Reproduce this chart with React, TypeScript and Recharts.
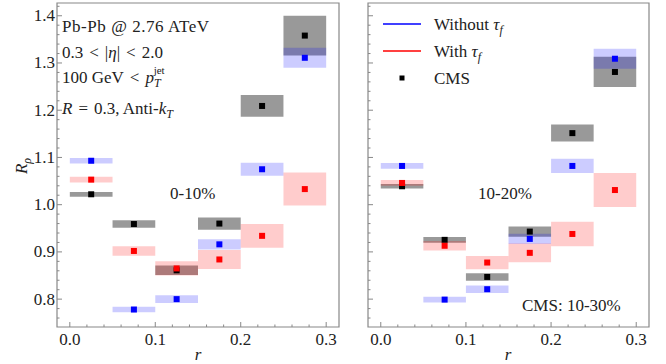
import React from 'react';
import { ScatterChart, Scatter, XAxis, YAxis, ReferenceArea } from 'recharts';

// bin centres in r, each bin is 0.05 wide
const rCenters = [0.025, 0.075, 0.125, 0.175, 0.225, 0.275];
const binHalf = 0.025;

// 0-10%
const noTauCentral = [1.093, 0.778, 0.8, 0.916, 1.075, 1.311];
const noTauCentralErr = [0.006, 0.006, 0.008, 0.011, 0.014, 0.021];
const withTauCentral = [1.053, 0.902, 0.865, 0.884, 0.934, 1.033];
const withTauCentralErr = [0.006, 0.01, 0.015, 0.02, 0.025, 0.035];
const cmsCentral = [1.022, 0.959, 0.861, 0.96, 1.209, 1.358];
const cmsCentralErr = [0.005, 0.008, 0.01, 0.013, 0.023, 0.042];

// 10-20% (CMS 10-30%)
const noTauMid = [1.082, 0.799, 0.821, 0.9275, 1.082, 1.309];
const noTauMidErr = [0.006, 0.006, 0.008, 0.011, 0.015, 0.021];
const withTauMid = [1.046, 0.913, 0.8775, 0.898, 0.938, 1.031];
const withTauMidErr = [0.006, 0.01, 0.014, 0.02, 0.026, 0.036];
const cmsMid = [1.039, 0.9255, 0.847, 0.943, 1.1515, 1.281];
const cmsMidErr = [0.005, 0.006, 0.008, 0.011, 0.018, 0.032];

const xTicks = [0, 0.02, 0.04, 0.06, 0.08, 0.1, 0.12, 0.14, 0.16, 0.18, 0.2, 0.22, 0.24, 0.26, 0.28, 0.3];
const yTicks = [
  0.76, 0.78, 0.8, 0.82, 0.84, 0.86, 0.88, 0.9, 0.92, 0.94, 0.96, 0.98, 1.0, 1.02, 1.04, 1.06, 1.08,
  1.1, 1.12, 1.14, 1.16, 1.18, 1.2, 1.22, 1.24, 1.26, 1.28, 1.3, 1.32, 1.34, 1.36, 1.38, 1.4, 1.42,
];

const X_DOMAIN: [number, number] = [-0.015, 0.315];
const Y_DOMAIN: [number, number] = [0.741, 1.427];

const FONT = 'Liberation Serif';
const FRAME = '#888';
const BLUE = '#0000ff';
const RED = '#ff0000';

const isMajor = (v: number) => Math.abs(v * 10 - Math.round(v * 10)) < 1e-6;

const XTick = (props: any) => {
  const { x, y, payload } = props;
  const major = isMajor(payload.value);
  return (
    <g>
      <line x1={x} x2={x} y1={y} y2={y - (major ? 5 : 2.5)} stroke={FRAME} />
      {major && (
        <text x={x} y={y + 18} textAnchor="middle" style={{ fontFamily: FONT, fontSize: 17 }} fill="#222">
          {payload.value.toFixed(1)}
        </text>
      )}
    </g>
  );
};

const makeYTick = (showLabels: boolean) => (props: any) => {
  const { x, y, payload } = props;
  const major = isMajor(payload.value);
  return (
    <g>
      <line x1={x} x2={x + (major ? 5 : 2.5)} y1={y} y2={y} stroke={FRAME} />
      {major && showLabels && (
        <text x={x - 2} y={y + 5.5} textAnchor="end" style={{ fontFamily: FONT, fontSize: 17 }} fill="#222">
          {payload.value.toFixed(1)}
        </text>
      )}
    </g>
  );
};

const square = (color: string, size: number) => (props: any) => (
  <rect x={props.cx - size / 2} y={props.cy - size / 2} width={size} height={size} fill={color} />
);

const toPoints = (vals: number[]) => vals.map((v, i) => ({ x: rCenters[i], y: v }));

const boxes = (vals: number[], errs: number[], color: string, opacity: number, key: string) =>
  vals.map((v, i) => (
    <ReferenceArea
      key={`${key}-${i}`}
      x1={rCenters[i] - binHalf}
      x2={rCenters[i] + binHalf}
      y1={v - errs[i]}
      y2={v + errs[i]}
      fill={color}
      fillOpacity={opacity}
      stroke="none"
      ifOverflow="visible"
    />
  ));

type PanelProps = {
  width: number;
  right: number;
  yWidth: number;
  showYLabels: boolean;
  blue: number[];
  blueErr: number[];
  red: number[];
  redErr: number[];
  cms: number[];
  cmsErr: number[];
};

function Panel(p: PanelProps) {
  return (
    <ScatterChart width={p.width} height={364} margin={{ top: 3, right: p.right, bottom: 0, left: 0 }}>
      <XAxis
        type="number"
        dataKey="x"
        domain={X_DOMAIN}
        ticks={xTicks}
        interval={0}
        allowDataOverflow
        height={37}
        tickSize={0}
        tickMargin={0}
        tickLine={false}
        axisLine={false}
        tick={XTick}
      />
      <YAxis
        type="number"
        dataKey="y"
        domain={Y_DOMAIN}
        ticks={yTicks}
        interval={0}
        allowDataOverflow
        width={p.yWidth}
        tickSize={0}
        tickMargin={0}
        tickLine={false}
        axisLine={false}
        tick={makeYTick(p.showYLabels)}
      />
      {boxes(p.cms, p.cmsErr, '#000000', 0.4, 'cms')}
      {boxes(p.blue, p.blueErr, BLUE, 0.2, 'blue')}
      {boxes(p.red, p.redErr, RED, 0.2, 'red')}
      <ReferenceArea
        x1={X_DOMAIN[0]}
        x2={X_DOMAIN[1]}
        y1={Y_DOMAIN[0]}
        y2={Y_DOMAIN[1]}
        fill="none"
        stroke={FRAME}
        strokeWidth={1.2}
        ifOverflow="visible"
      />
      <Scatter data={toPoints(p.cms)} shape={square('#000', 6)} isAnimationActive={false} />
      <Scatter data={toPoints(p.blue)} shape={square(BLUE, 6)} isAnimationActive={false} />
      <Scatter data={toPoints(p.red)} shape={square(RED, 6)} isAnimationActive={false} />
    </ScatterChart>
  );
}

export default function App() {
  const txt = { style: { fontFamily: FONT, fontSize: 17 }, fill: '#222' };
  const sub = { fontSize: 12, fontStyle: 'italic' as const };
  const gap = 6;
  return (
    <div style={{ position: 'absolute', left: 0, top: 0, width: 666, height: 364, background: '#fff' }}>
      <div style={{ position: 'absolute', left: 0, top: 0 }}>
        <Panel
          width={345}
          right={6}
          yWidth={57}
          showYLabels
          blue={noTauCentral}
          blueErr={noTauCentralErr}
          red={withTauCentral}
          redErr={withTauCentralErr}
          cms={cmsCentral}
          cmsErr={cmsCentralErr}
        />
      </div>
      <div style={{ position: 'absolute', left: 345, top: 0 }}>
        <Panel
          width={321}
          right={17}
          yWidth={23}
          showYLabels={false}
          blue={noTauMid}
          blueErr={noTauMidErr}
          red={withTauMid}
          redErr={withTauMidErr}
          cms={cmsMid}
          cmsErr={cmsMidErr}
        />
      </div>
      <svg width={666} height={364} style={{ position: 'absolute', left: 0, top: 0, pointerEvents: 'none' }}>
        {/* axis labels */}
        <text transform="translate(27,166) rotate(-90)" textAnchor="middle" {...txt}>
          <tspan fontStyle="italic">R</tspan>
          <tspan {...sub} dy={4}>ρ</tspan>
        </text>
        <text x={198} y={360} textAnchor="middle" fontStyle="italic" {...txt}>r</text>
        <text x={508} y={360} textAnchor="middle" fontStyle="italic" {...txt}>r</text>

        {/* left panel notes */}
        <text x={62} y={32} textLength={147} lengthAdjust="spacing" {...txt}>Pb-Pb @ 2.76 ATeV</text>
        <text x={62} y={58} {...txt}>
          0.3<tspan dx={gap}>&lt;</tspan>
          <tspan dx={gap}>|</tspan>
          <tspan fontStyle="italic">η</tspan>|<tspan dx={gap}>&lt;</tspan>
          <tspan dx={gap}>2.0</tspan>
        </text>
        <text x={62} y={83} {...txt}>
          100 GeV<tspan dx={gap}>&lt;</tspan>
          <tspan dx={gap} fontStyle="italic">p</tspan>
          <tspan {...sub} dy={4}>T</tspan>
          <tspan fontSize={11} dx={-7} dy={-13}>jet</tspan>
        </text>
        <text x={62} y={114} {...txt}>
          <tspan fontStyle="italic">R</tspan>
          <tspan dx={gap}>=</tspan>
          <tspan dx={gap}>0.3, Anti-</tspan>
          <tspan fontStyle="italic">k</tspan>
          <tspan {...sub} dy={4}>T</tspan>
        </text>
        <text x={170} y={199} {...txt}>0-10%</text>

        {/* right panel notes */}
        <text x={478} y={199} {...txt}>10-20%</text>
        <text x={522} y={311} {...txt}>CMS: 10-30%</text>

        {/* legend */}
        <line x1={383} x2={421} y1={24} y2={24} stroke={BLUE} strokeWidth={1.5} />
        <text x={434} y={30} {...txt}>
          Without <tspan fontStyle="italic">τ</tspan>
          <tspan {...sub} dy={4}>f</tspan>
        </text>
        <line x1={383} x2={421} y1={51} y2={51} stroke={RED} strokeWidth={1.5} />
        <text x={434} y={57} {...txt}>
          With <tspan fontStyle="italic">τ</tspan>
          <tspan {...sub} dy={4}>f</tspan>
        </text>
        <rect x={399.5} y={75.5} width={5} height={5} fill="#000" />
        <text x={434} y={84} {...txt}>CMS</text>
      </svg>
    </div>
  );
}
